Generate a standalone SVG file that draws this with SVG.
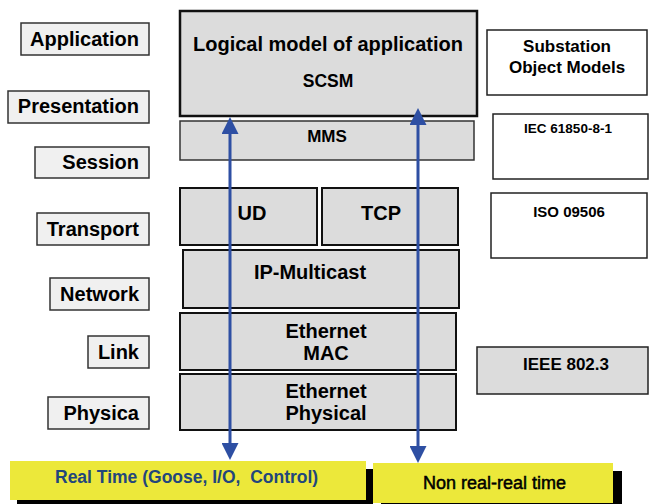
<svg xmlns="http://www.w3.org/2000/svg" width="649" height="504" viewBox="0 0 649 504">
  <style>
    text { font-family: "Liberation Sans", Arial, sans-serif; font-weight: bold; fill: #000; }
    .lbl rect { fill: #f0f0f0; stroke: #333; stroke-width: 1.5; }
    .lbl text { font-size: 20px; text-anchor: end; }
    .stk rect { fill: #dcdcdc; stroke: #111; stroke-width: 2; }
    .stk text { font-size: 20px; text-anchor: middle; }
    .std rect { fill: #fff; stroke: #222; stroke-width: 1.5; }
    .std text { text-anchor: middle; }
    .flow .bg { fill: #ece83a; }
    .flow .sh { fill: #000; }
    .conn line { stroke: #2e4fa3; stroke-width: 3; marker-start: url(#head); marker-end: url(#head); }
  </style>
  <defs>
    <marker id="head" markerUnits="userSpaceOnUse" viewBox="0 0 17 17" markerWidth="17" markerHeight="17" refX="9" refY="8.5" orient="auto-start-reverse">
      <path d="M0,0 L17,8.5 L0,17 Z" fill="#2e4fa3"/>
    </marker>
  </defs>

  <rect width="649" height="504" fill="#fff"/>

  <!-- OSI layer labels -->
  <g id="osi-application" class="lbl"><rect x="21" y="23" width="128" height="32"/><text x="139" y="46">Application</text></g>
  <g id="osi-presentation" class="lbl"><rect x="8" y="91" width="141" height="32"/><text x="139" y="113">Presentation</text></g>
  <g id="osi-session" class="lbl"><rect x="35" y="147" width="114" height="31"/><text x="139" y="169">Session</text></g>
  <g id="osi-transport" class="lbl"><rect x="37" y="213" width="112" height="32"/><text x="139" y="236">Transport</text></g>
  <g id="osi-network" class="lbl"><rect x="50" y="278" width="99" height="32"/><text x="139" y="301">Network</text></g>
  <g id="osi-link" class="lbl"><rect x="88" y="336" width="61" height="32"/><text x="139" y="359">Link</text></g>
  <g id="osi-physical" class="lbl"><rect x="48" y="397" width="101" height="32"/><text x="139" y="420">Physica</text></g>

  <!-- protocol stack -->
  <g id="logical-model" class="stk">
    <rect x="180" y="11" width="297" height="105" style="stroke-width:2.5"/>
    <text x="328" y="51">Logical model of application</text>
    <text x="328" y="87" style="font-size:17.5px">SCSM</text>
  </g>
  <g id="mms" class="stk">
    <rect x="180" y="121" width="294" height="39" style="stroke:#333;stroke-width:1.5"/>
    <text x="327" y="142" style="font-size:17px">MMS</text>
  </g>
  <g id="ud" class="stk"><rect x="180" y="188" width="137" height="57"/><text x="252" y="220">UD</text></g>
  <g id="tcp" class="stk"><rect x="322" y="188" width="136" height="57"/><text x="381" y="220">TCP</text></g>
  <g id="ip-multicast" class="stk"><rect x="183" y="250" width="276" height="58"/><text x="310" y="279">IP-Multicast</text></g>
  <g id="ethernet-mac" class="stk"><rect x="180" y="313" width="276" height="57"/><text x="326" y="338">Ethernet</text><text x="326" y="360">MAC</text></g>
  <g id="ethernet-physical" class="stk"><rect x="180" y="374" width="276" height="56"/><text x="326" y="398">Ethernet</text><text x="326" y="420">Physical</text></g>

  <!-- standards -->
  <g id="std-object-models" class="std">
    <rect x="487" y="30" width="160" height="65"/>
    <text x="567" y="52" font-size="17">Substation</text>
    <text x="567" y="73" font-size="17">Object Models</text>
  </g>
  <g id="std-iec" class="std"><rect x="493" y="114" width="155" height="65"/><text x="568" y="133" font-size="13.5">IEC 61850-8-1</text></g>
  <g id="std-iso" class="std"><rect x="491" y="193" width="156" height="65"/><text x="569" y="217" font-size="15">ISO 09506</text></g>
  <g id="std-ieee" class="std"><rect x="477" y="347" width="171" height="47" style="fill:#dcdcdc"/><text x="566" y="370" font-size="17">IEEE 802.3</text></g>

  <!-- traffic classes -->
  <g id="real-time" class="flow">
    <rect class="sh" x="17" y="469" width="356" height="39"/>
    <rect class="bg" x="10" y="461" width="356" height="39"/>
    <text x="55" y="483" font-size="17.5" style="fill:#22467c;white-space:pre">Real Time (Goose, I/O,  Control)</text>
  </g>
  <g id="non-real-time" class="flow">
    <rect class="sh" x="381" y="471" width="241" height="40"/>
    <rect class="bg" x="373" y="463" width="240" height="40"/>
    <text x="423" y="489" font-size="18" stroke="#000" stroke-width="0.5" style="font-weight:normal">Non real-real time</text>
  </g>

  <!-- connectors -->
  <g id="connectors" class="conn">
    <line x1="230" y1="125" x2="230" y2="452"/>
    <line x1="418" y1="116" x2="418" y2="455"/>
  </g>
</svg>
